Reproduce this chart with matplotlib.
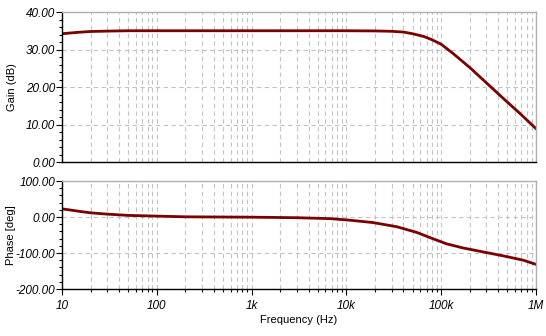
import matplotlib
matplotlib.use("Agg")
import matplotlib.pyplot as plt
import matplotlib.ticker as mticker

# Bode data: frequency (Hz), gain (dB)
gain_freq = [10, 15, 20, 30, 50, 100, 1e3, 1e4, 2e4, 3e4, 4e4, 5e4, 6.5e4, 8e4,
             1e5, 1.34e5, 2e5, 3e5, 4.5e5, 6.8e5, 1e6]
gain = [34.2, 34.6, 34.8, 34.9, 35.0, 35.0, 35.0, 35.0, 34.95, 34.85, 34.65, 34.2,
        33.5, 32.6, 31.4, 28.9, 25.2, 21.1, 17.0, 12.9, 8.9]

# phase (deg)
phase_freq = [10, 15, 20, 30, 50, 100, 200, 1e3, 3e3, 6.7e3, 1.1e4, 1.9e4,
              3.4e4, 5.5e4, 8.3e4, 1.14e5, 1.7e5, 2.77e5, 4.52e5, 7.35e5, 1e6]
phase = [22.7, 16.0, 11.6, 8.0, 4.4, 2.5, 0.5, -0.5, -2.0, -4.5, -9.0, -15.4,
         -27.0, -42.7, -61.0, -74.5, -86.0, -97.0, -108.0, -120.0, -131.6]

xticks = [10, 100, 1e3, 1e4, 1e5, 1e6]
xtick_labels = ["10", "100", "1k", "10k", "100k", "1M"]
gain_ticks = [0, 10, 20, 30, 40]
phase_ticks = [-200, -100, 0, 100]

plt.rcParams['font.family'] = ['Liberation Sans', 'DejaVu Sans']
line_color = "#7b0000"
grid_color = "#c4c4c4"

fig = plt.figure(figsize=(5.46, 3.36), dpi=100)
ax1 = fig.add_axes([62/546, 1 - 162/336, 474/546, 150/336])
ax2 = fig.add_axes([62/546, 1 - 289/336, 474/546, 108/336])


def style(ax, yt, minor_step):
    ax.set_xscale("log")
    ax.set_xlim(10, 1e6)
    ax.set_yticks(yt)
    ax.set_yticklabels(["%.2f" % v for v in yt], fontsize=8.5, fontstyle="italic")
    ax.yaxis.set_minor_locator(mticker.MultipleLocator(minor_step))
    ax.spines["top"].set_color("#b0b0b0")
    ax.spines["right"].set_color("#b0b0b0")
    ax.spines["left"].set_color("black")
    ax.spines["bottom"].set_color("black")
    for s in ax.spines.values():
        s.set_linewidth(1.0)
    ax.grid(True, which="major", axis="both", color=grid_color, linestyle=(0, (4, 3)), linewidth=0.8)
    ax.grid(True, which="minor", axis="x", color=grid_color, linestyle=(0, (4, 3)), linewidth=0.8)
    ax.tick_params(axis="y", which="major", length=4, width=0.8, pad=1)
    ax.tick_params(axis="y", which="minor", length=2, width=0.8)


# gain plot
ax1.plot(gain_freq, gain, color=line_color, linewidth=2)
ax1.set_ylim(0, 40)
style(ax1, gain_ticks, 2)
ax1.set_ylabel("Gain (dB)", fontsize=8)
ax1.tick_params(axis="x", which="both", length=0, labelbottom=False)

# phase plot
ax2.plot(phase_freq, phase, color=line_color, linewidth=2)
ax2.set_ylim(-200, 100)
style(ax2, phase_ticks, 20)
ax2.set_ylabel("Phase [deg]", fontsize=8)
ax2.set_xticks(xticks)
ax2.set_xticklabels(xtick_labels, fontsize=8.5, fontstyle="italic")
ax2.xaxis.set_minor_locator(mticker.LogLocator(base=10, subs=range(2, 10)))
ax2.xaxis.set_minor_formatter(mticker.NullFormatter())
ax2.tick_params(axis="x", which="major", length=4, width=0.8, pad=4)
ax2.tick_params(axis="x", which="minor", length=2, width=0.8)
ax2.set_xlabel("Frequency (Hz)", fontsize=8, labelpad=2)

ax1.yaxis.set_label_coords(-0.094, 0.5)
ax2.yaxis.set_label_coords(-0.098, 0.5)

fig.savefig("out.png", dpi=100)
